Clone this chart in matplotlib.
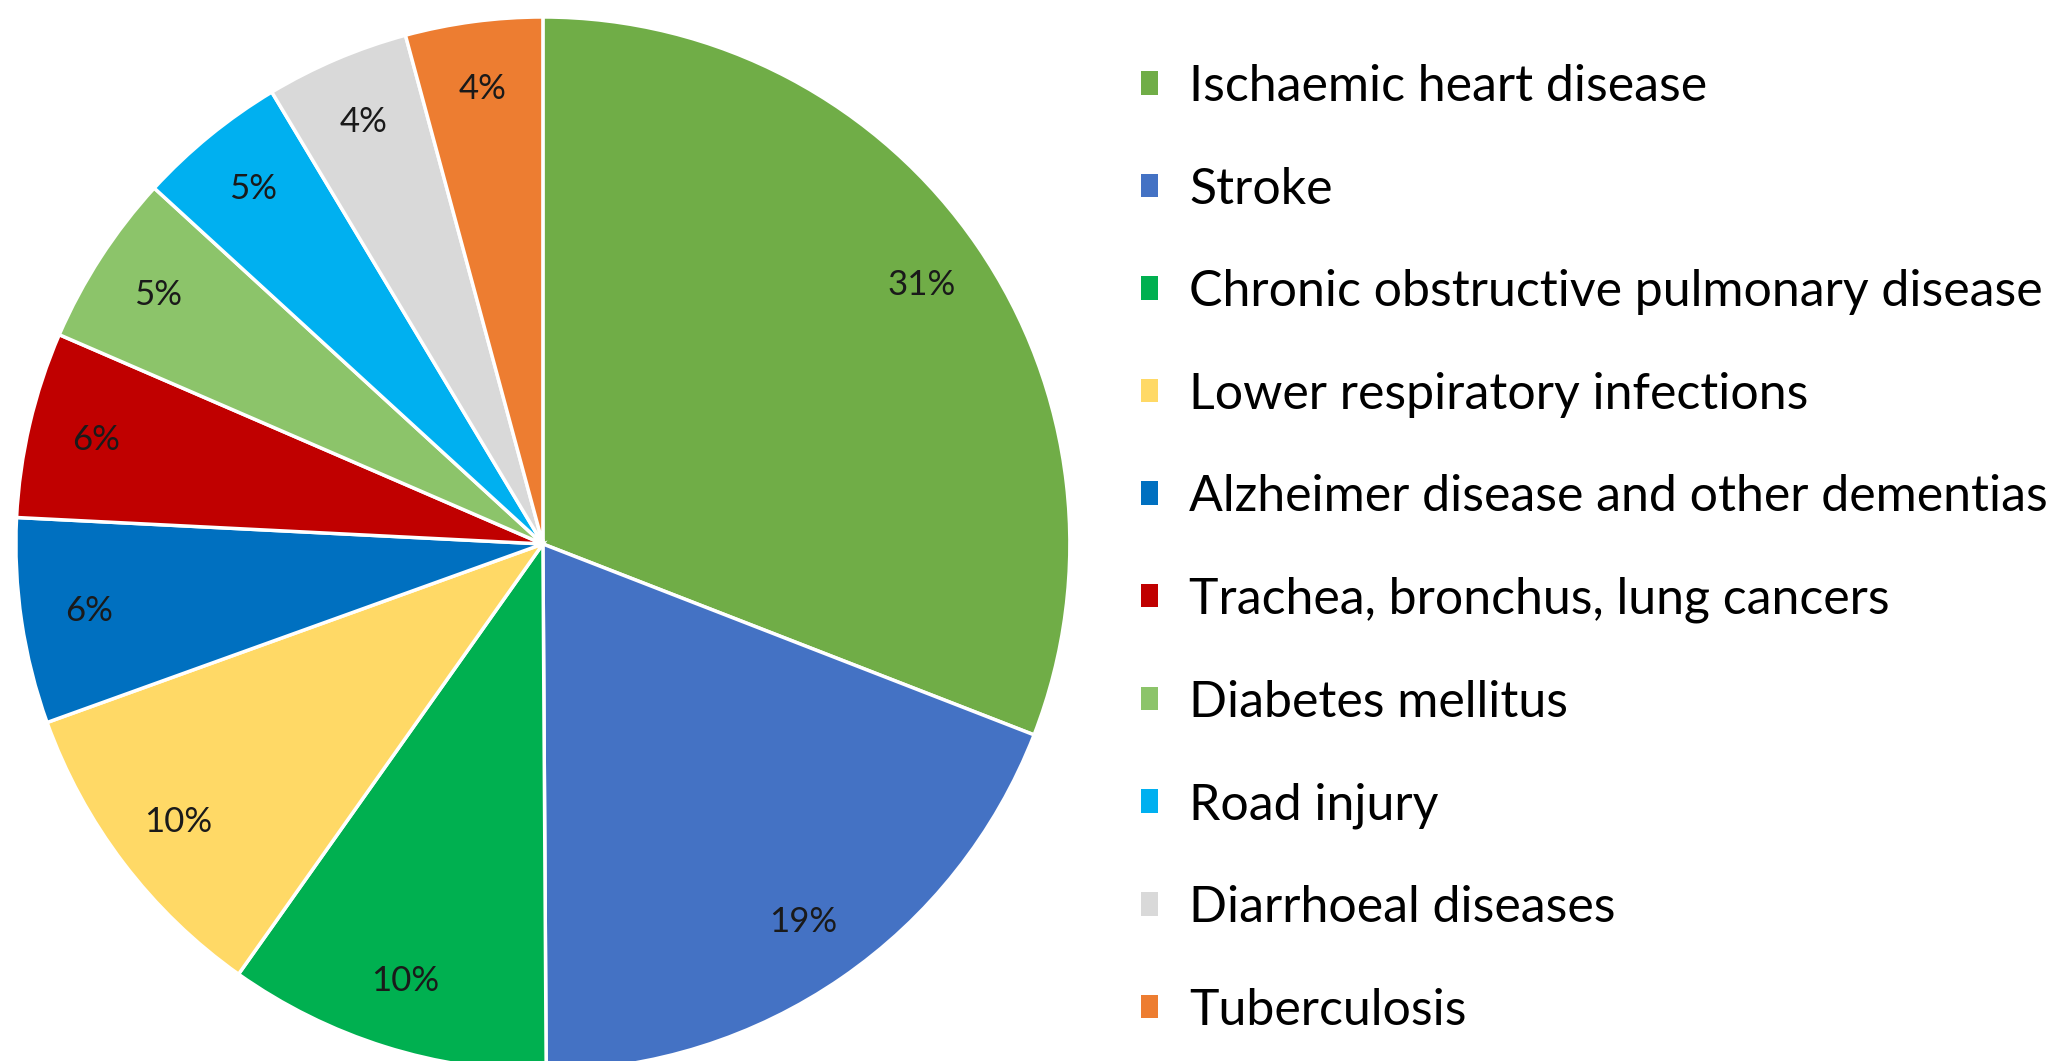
import matplotlib.pyplot as plt
from matplotlib.patches import Patch

causes = ["Ischaemic heart disease", "Stroke", "Chronic obstructive pulmonary disease",
          "Lower respiratory infections", "Alzheimer disease and other dementias",
          "Trachea, bronchus, lung cancers", "Diabetes mellitus", "Road injury",
          "Diarrhoeal diseases", "Tuberculosis"]
shares = [30.9, 19.0, 9.9, 9.7, 6.3, 5.7, 5.3, 4.6, 4.4, 4.2]
colors = ["#70AD47", "#4472C4", "#00B050", "#FFD966", "#0070C0",
          "#C00000", "#8CC46A", "#00B0F0", "#D9D9D9", "#ED7D31"]

plt.rcParams['font.family'] = ['Lato', 'DejaVu Sans']

fig = plt.figure(figsize=(20.67, 10.61), dpi=100)
# square axes so the pie radius is ~527 px, centre at (543, 544) from top-left
ax = fig.add_axes([0.0077, -0.0094, 0.5099, 0.9934])
wedges, texts, autotexts = ax.pie(shares, colors=colors, startangle=90, counterclock=False,
                                  autopct='%1.0f%%', pctdistance=0.87, radius=1,
                                  wedgeprops=dict(edgecolor='white', linewidth=2.5),
                                  textprops=dict(fontsize=25, color='#1a1a1a'))
ax.set_xlim(-1, 1)
ax.set_ylim(-1, 1)
ax.set_aspect('equal')
ax.axis('off')

handles = [Patch(facecolor=c, edgecolor='none') for c in colors]
fig.legend(handles, causes, loc='upper left', bbox_to_anchor=(0.5425, 0.9585),
           frameon=False, fontsize=36, handlelength=0.34, handleheight=0.34,
           handletextpad=0.62, labelspacing=1.13, borderaxespad=0.0)

plt.savefig("out.png")
